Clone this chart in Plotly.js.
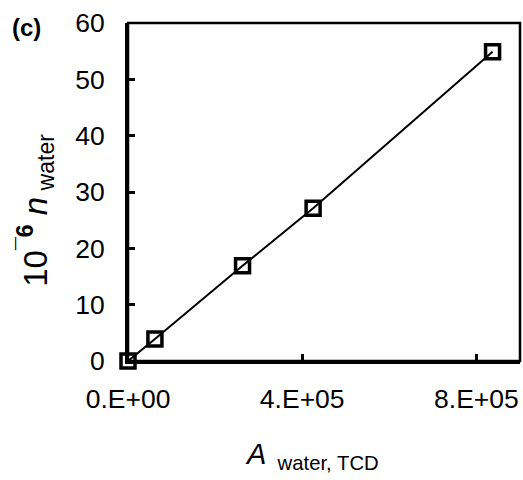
<!DOCTYPE html>
<html>
<head>
<meta charset="utf-8">
<script src="https://cdn.plot.ly/plotly-3.0.1.min.js"></script>
<style>html,body{margin:0;padding:0;background:#fff;}#chart{width:523px;height:480px;}</style>
</head>
<body>
<div id="chart"></div>
<script>
// Data
var areaTCD = [0, 61800, 263000, 425000, 837000];   // A water, TCD
var nWater = [0, 3.9, 16.9, 27.1, 54.9];            // 10^-6 n water
var xTickVals = [0, 400000, 800000];
var xTickText = ["0.E+00", "4.E+05", "8.E+05"];
var yTickVals = [0, 10, 20, 30, 40, 50, 60];
var xTitle = "<i>A</i><sub>  water, TCD</sub>";
var yTitle = "10<sup><b>¯6</b></sup> <i>n</i><sub> water</sub>";
var panelLabel = "<b>(c)</b>";

var FONT = "Liberation Sans, Arial, sans-serif";

var trace = {
  x: areaTCD,
  y: nWater,
  type: "scatter",
  mode: "lines+markers",
  cliponaxis: false,
  line: {color: "#000", width: 2},
  marker: {symbol: "square-open", size: 14, color: "#000", line: {color: "#000", width: 3.5}},
  showlegend: false
};

var layout = {
  width: 523, height: 480,
  margin: {l: 128, r: 3, t: 23, b: 119, pad: 0},
  paper_bgcolor: "#fff", plot_bgcolor: "#fff",
  font: {family: FONT, color: "#000", size: 26},
  xaxis: {
    range: [0, 900000], autorange: false,
    tickvals: xTickVals, ticktext: xTickText,
    ticks: "inside", ticklen: 7, tickwidth: 3, tickcolor: "#000",
    showline: true, linewidth: 3, linecolor: "#000",
    showgrid: false, zeroline: false,
    tickfont: {family: FONT, size: 26.5, color: "#000"},
    ticklabelstandoff: 12,
    automargin: false
  },
  yaxis: {
    range: [0, 60], autorange: false,
    tickvals: yTickVals,
    ticks: "inside", ticklen: 7, tickwidth: 3, tickcolor: "#000",
    showline: true, linewidth: 3, linecolor: "#000",
    showgrid: false, zeroline: false,
    tickfont: {family: FONT, size: 26.5, color: "#000"},
    ticklabelstandoff: 15,
    automargin: false
  },
  shapes: [{
    type: "rect", xref: "paper", yref: "paper", x0: 0, x1: 1, y0: 0, y1: 1,
    line: {color: "#000", width: 2.5}, layer: "above"
  }],
  annotations: [{
    text: panelLabel, xref: "paper", yref: "paper",
    x: -0.258, y: 0.988, xanchor: "center", yanchor: "middle",
    showarrow: false, font: {family: FONT, size: 24, color: "#000"}
  }, {
    text: xTitle, xref: "paper", yref: "paper",
    x: 0.469, y: -0.28, xanchor: "center", yanchor: "middle",
    showarrow: false, font: {family: FONT, size: 29, color: "#000"}
  }, {
    text: yTitle, xref: "paper", yref: "paper", textangle: -90,
    x: -0.235, y: 0.447, xanchor: "center", yanchor: "middle",
    showarrow: false, font: {family: FONT, size: 33, color: "#000"}
  }]
};

Plotly.newPlot("chart", [trace], layout, {displayModeBar: false, staticPlot: true});
</script>
</body>
</html>
